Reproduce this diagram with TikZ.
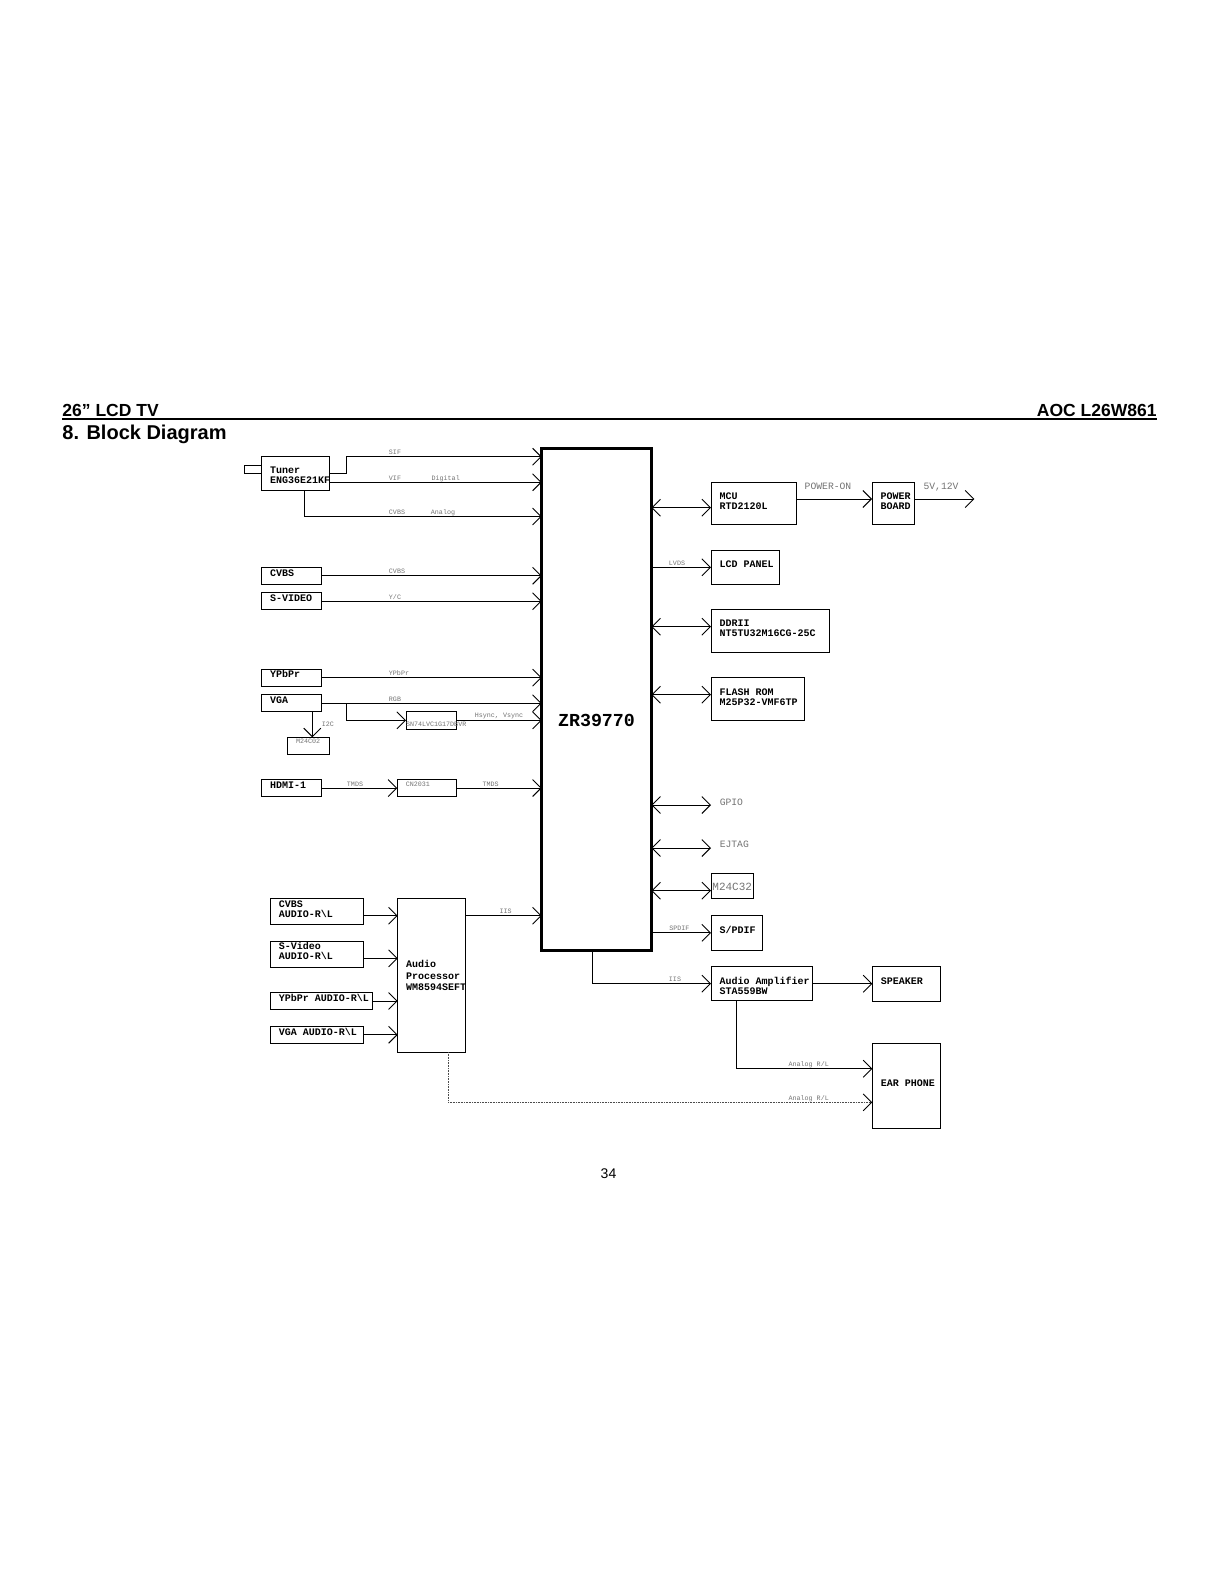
\documentclass[tikz,border=0pt]{standalone}
\usepackage{fontspec}
\setmainfont{Liberation Sans}
\setmonofont{Liberation Mono}
\usetikzlibrary{positioning, arrows.meta}
\definecolor{signalgray}{gray}{0.45}
\newcommand{\monogap}{\hbox to 6pt{}}

\begin{document}
\begin{tikzpicture}[
    x=1pt, y=-1pt, line width=0.9pt,
    box/.style 2 args={draw, outer sep=0pt, inner sep=0pt, minimum width=#1, minimum height=#2,
                text width=#1-17pt, align=left, text height=7pt, text depth=6.4pt,
                font=\ttfamily\bfseries\fontsize{10pt}{10pt}\selectfont},
    twolines/.style={text depth=15.4pt},
    part/.style={text=signalgray, font=\ttfamily\fontsize{6.7pt}{6.7pt}\selectfont},
    signal/.style={inner sep=0pt, text=signalgray, font=\ttfamily\fontsize{6.7pt}{6.7pt}\selectfont},
    bigsignal/.style={inner sep=0pt, text=signalgray, font=\ttfamily\fontsize{9.7pt}{9.7pt}\selectfont},
    arrow/.style={-{Straight Barb[length=8.5pt, width=17pt]}},
    biarrow/.style={{Straight Barb[length=8.5pt, width=17pt]}-{Straight Barb[length=8.5pt, width=17pt]}},
    dotarrow/.style={-{Straight Barb[length=8.5pt, width=17pt, line width=0.9pt, color=black]},
                densely dotted, line width=0.6pt, black!70},
    heading/.style={inner sep=0pt, font=\bfseries\fontsize{17.5pt}{17.5pt}\selectfont}
]
\useasboundingbox (0,0) rectangle (1219,1582);

% Page heading
\node[heading, anchor=base west] (model) at (62,416) {26” LCD TV};
\node[heading, anchor=base east] (brand) at (1157,416) {AOC L26W861};
\coordinate (ruleleft) at (62,419);
\coordinate (ruleright) at (1157,419);
\draw[line width=2.2pt] (ruleleft) -- (ruleright);
\node[heading, anchor=base west, font=\bfseries\fontsize{20pt}{20pt}\selectfont] (section) at (62,439) {8. Block Diagram};
\node[inner sep=0pt, font=\fontsize{14pt}{14pt}\selectfont] (pageno) at (608.5,1173.5) {34};

% Main chip
\node[draw, line width=3pt, outer sep=0pt, inner sep=0pt, minimum width=109.6pt, minimum height=502pt,
      text height=55pt, text depth=0pt, font=\ttfamily\bfseries\fontsize{18.3pt}{18.3pt}\selectfont]
      (chip) at (596.5,699) {ZR39770};

% Video inputs
\node[box={68.2pt}{34pt}, anchor=north west, text depth=7.8pt] (tuner) at (261.5,456.7) {Tuner\\ENG36E21KF};
\node[draw, outer sep=0pt, inner sep=0pt, minimum width=16.8pt, minimum height=8.3pt,
      left=0pt of tuner.west, yshift=4.5pt] (rfin) {};
\node[box={60pt}{17pt}, below=76.6pt of tuner.south west, anchor=north west] (cvbs) {CVBS};
\node[box={60pt}{17pt}, below=8.4pt of cvbs.south west, anchor=north west] (svideo) {S-VIDEO};
\node[box={60pt}{16.7pt}, below=59.6pt of svideo.south west, anchor=north west] (ypbpr) {YPbPr};
\node[box={60pt}{17pt}, below=8.7pt of ypbpr.south west, anchor=north west] (vga) {VGA};
\node[box={60pt}{16.7pt}, below=68pt of vga.south west, anchor=north west] (hdmi) {HDMI-1};
\node[box={42.4pt}{17pt}, part, below=25.6pt of vga.south west, anchor=north west, xshift=26pt,
      text height=5pt, text depth=10.6pt] (edid) {M24C02};
\node[box={50.7pt}{17.3pt}, part, right=84.5pt of vga.south east, anchor=north west,
      text width=50.7pt, text height=12pt, text depth=0.2pt] (sync) {SN74LVC1G17DBVR};
\node[box={59.4pt}{16.7pt}, part, right=75.8pt of hdmi, text height=5pt, text depth=9pt] (hdmisw) {CN2031};

% Audio inputs
\node[box={93pt}{25.6pt}, twolines, below=102.3pt of hdmi.south west, anchor=north west, xshift=8.8pt] (cvbsaudio) {CVBS\\AUDIO-R\textbackslash L};
\node[box={93pt}{25.7pt}, twolines, below=17pt of cvbsaudio.south west, anchor=north west] (svideoaudio) {S-Video\\AUDIO-R\textbackslash L};
\node[box={102pt}{16.6pt}, below=25.7pt of svideoaudio.south west, anchor=north west] (ypbpraudio) {YPbPr\monogap AUDIO-R\textbackslash L};
\node[box={93pt}{17pt}, below=17pt of ypbpraudio.south west, anchor=north west] (vgaaudio) {VGA\monogap AUDIO-R\textbackslash L};
\node[box={67.6pt}{153.3pt}, right=34.4pt of cvbsaudio.north east, anchor=north west, text depth=22.4pt] (audio)
    {Audio\\[1.4pt]Processor\\[1.4pt]WM8594SEFT};

% Right side
\node[box={85pt}{41.6pt}, twolines, right=59.7pt of chip.north east, anchor=north west, yshift=-34.7pt] (mcu) {MCU\\RTD2120L};
\node[box={42.7pt}{41.6pt}, twolines, right=76pt of mcu.north east, anchor=north west] (power) {POWER\\BOARD};
\node[box={68pt}{34pt}, below=26pt of mcu.south west, anchor=north west] (lcd) {LCD\monogap PANEL};
\node[box={118.3pt}{42.6pt}, twolines, text depth=16.4pt, below=25.4pt of lcd.south west, anchor=north west] (ddr) {DDRII\\NT5TU32M16CG-25C};
\node[box={93.3pt}{42.6pt}, below=25.4pt of ddr.south west, anchor=north west, text depth=14.4pt] (flash) {FLASH\monogap ROM\\M25P32-VMF6TP};
\coordinate[below=84.7pt of flash.south west] (gpiotip);
\node[bigsignal, right=8.3pt of gpiotip, yshift=2.7pt] (gpio) {GPIO};
\coordinate[below=43pt of gpiotip] (ejtagtip);
\node[bigsignal, right=8.3pt of ejtagtip, yshift=4pt] (ejtag) {EJTAG};
\node[draw, outer sep=0pt, inner sep=0pt, minimum width=42.4pt, minimum height=25pt, text=signalgray,
      text height=12pt, text depth=1.8pt,
      font=\ttfamily\fontsize{11pt}{11pt}\selectfont, below=25.3pt of ejtagtip, anchor=north west] (eeprom) {M24C32};
\node[box={51pt}{35pt}, below=17pt of eeprom.south west, anchor=north west] (spdif) {S/PDIF};
\node[box={101.7pt}{34pt}, below=16.4pt of spdif.south west, anchor=north west, text depth=5.8pt] (amp) {Audio\monogap Amplifier\\STA559BW};
\node[box={68pt}{34.6pt}, right=59.6pt of amp] (speaker) {SPEAKER};
\node[box={68pt}{85.4pt}, below=42pt of speaker.south west, anchor=north west] (ear) {EAR\monogap PHONE};

% Taps
\coordinate (vipout) at ([yshift=-8.6pt]tuner.east);
\coordinate[right=42.8pt of tuner.south west] (anaout);
\coordinate[below=25.8pt of tuner.south west] (anaturn);
\coordinate[right=50.8pt of vga.south west] (i2cout);
\coordinate[right=25.2pt of vga.east] (rgbtap);
\coordinate (cvbsaudioout) at ([yshift=-4.2pt]cvbsaudio.east);
\coordinate (svideoaudioout) at ([yshift=-4.2pt]svideoaudio.east);
\coordinate[right=50.6pt of chip.south west] (iisout);
\coordinate[right=51pt of audio.south west] (lineout);
\coordinate[right=25.7pt of amp.south west] (ampout);
\coordinate (earin) at ([yshift=17pt]ear.west);
\coordinate (linein) at ([yshift=-16.7pt]ear.west);
\coordinate (mculine) at ([yshift=-4.2pt]mcu.west);
\coordinate (ddrline) at ([yshift=4.3pt]ddr.west);
\coordinate (flashline) at ([yshift=4.3pt]flash.west);
\coordinate (eepromline) at ([yshift=-4.9pt]eeprom.west);
\coordinate (powerline) at ([yshift=4.5pt]power.west);
\coordinate[right=59.6pt of powerline -| power.east] (railout);

% Arrows
\draw[arrow] (tuner.east) -- ++(17,0) |- (tuner.north -| chip.west);
\draw[arrow] (vipout) -- (vipout -| chip.west);
\draw[arrow] (anaout) |- (anaturn -| chip.west);
\draw[arrow] (cvbs) -- (cvbs -| chip.west);
\draw[arrow] (svideo) -- (svideo -| chip.west);
\draw[arrow] (ypbpr) -- (ypbpr -| chip.west);
\draw[arrow] (vga) -- (vga -| chip.west);
\draw[arrow] (rgbtap) |- (sync.west);
\draw[arrow] (sync) -- (sync -| chip.west);
\draw[arrow] (i2cout) -- (i2cout |- edid.north);
\draw[arrow] (hdmi) -- (hdmisw);
\draw[arrow] (hdmisw) -- (hdmisw -| chip.west);
\draw[arrow] (cvbsaudioout) -- (cvbsaudioout -| audio.west);
\draw[arrow] (svideoaudioout) -- (svideoaudioout -| audio.west);
\draw[arrow] (ypbpraudio) -- (ypbpraudio -| audio.west);
\draw[arrow] (vgaaudio) -- (vgaaudio -| audio.west);
\draw[arrow] (cvbsaudioout -| audio.east) -- (cvbsaudioout -| chip.west);
\draw[biarrow] (mculine -| chip.east) -- (mculine);
\draw[arrow] (lcd -| chip.east) -- (lcd);
\draw[biarrow] (ddrline -| chip.east) -- (ddrline);
\draw[biarrow] (flashline -| chip.east) -- (flashline);
\draw[biarrow] (gpiotip -| chip.east) -- (gpiotip);
\draw[biarrow] (ejtagtip -| chip.east) -- (ejtagtip);
\draw[biarrow] (eepromline -| chip.east) -- (eepromline);
\draw[arrow] (spdif -| chip.east) -- (spdif);
\draw[arrow] (iisout) |- (amp.west);
\draw[arrow] (amp) -- (speaker);
\draw[arrow] (mcu.east |- powerline) -- (powerline);
\draw[arrow] (powerline -| power.east) -- (railout);
\draw[arrow] (ampout) |- (earin);
\draw[dotarrow] (lineout) |- (linein);

% Signal names
\node[signal] (sifname) at (395,452.4) {SIF};
\node[signal] (vifname) at (395,478.4) {VIF};
\node[signal] (digitalname) at (445.7,478.4) {Digital};
\node[signal] (tunercvbsname) at (397,512.7) {CVBS};
\node[signal] (analogname) at (443,512.7) {Analog};
\node[signal] (cvbsname) at (397,571.4) {CVBS};
\node[signal] (ycname) at (395,597.4) {Y/C};
\node[signal] (ypbprname) at (399,673.4) {YPbPr};
\node[signal] (rgbname) at (395,699.4) {RGB};
\node[signal] (syncname) at (499,716.4) {Hsync, Vsync};
\node[signal] (i2cname) at (327.8,724.7) {I2C};
\node[signal] (tmdsin) at (355,784) {TMDS};
\node[signal] (tmdsout) at (490.7,784) {TMDS};
\node[signal] (iisname) at (505.7,911.4) {IIS};
\node[signal] (lvdsname) at (677,563.4) {LVDS};
\node[signal] (spdifname) at (679.3,928.4) {SPDIF};
\node[signal] (ampiisname) at (675,979) {IIS};
\node[signal] (earname) at (808.7,1064.7) {Analog R/L};
\node[signal] (linename) at (808.7,1098.7) {Analog R/L};
\node[bigsignal] (poweronname) at (828,486.7) {POWER-ON};
\node[bigsignal] (railname) at (941,486.7) {5V,12V};

\end{tikzpicture}
\end{document}
